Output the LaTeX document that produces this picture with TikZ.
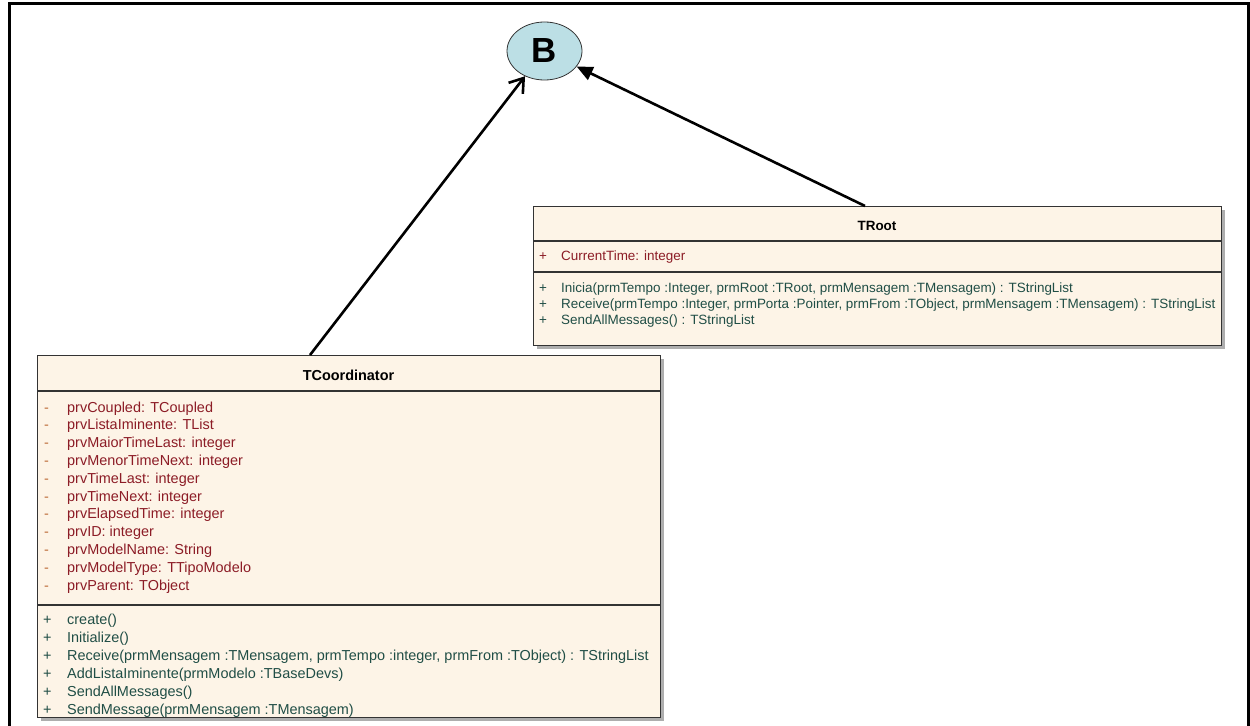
\documentclass[tikz,border=0pt]{standalone}
\usepackage{fontspec}
\setmainfont{Liberation Sans}
\usetikzlibrary{arrows.meta,shadows,shapes.geometric}
\definecolor{boxfill}{RGB}{253,244,231}
\definecolor{attrred}{RGB}{140,28,38}
\definecolor{methgreen}{RGB}{32,78,70}
\definecolor{dashbul}{RGB}{190,110,60}
\definecolor{ellfill}{RGB}{188,223,229}
\begin{document}
\begin{tikzpicture}[x=1bp,y=-1bp,
  classbox/.style={draw=black!80,line width=1.1bp,fill=boxfill,inner sep=0,anchor=north west,
    drop shadow={shadow xshift=3bp,shadow yshift=-3bp,fill=black!45,opacity=0.7}},
  sep/.style={draw=black!80,line width=1.1bp},
  txt/.style={inner sep=0,anchor=base west,font=\fontsize{14.5}{17}\selectfont},
  smalltxt/.style={inner sep=0,anchor=base west,font=\fontsize{13.5}{16}\selectfont},
  title/.style={inner sep=0,font=\fontsize{14.5}{17}\selectfont\bfseries},
  attr/.style={txt,text=attrred},
  meth/.style={txt,text=methgreen},
  gen/.style={line width=2.6bp,draw=black},
]
\useasboundingbox (0,0) rectangle (1250,726);
% frame
\draw[line width=3bp] (9,735) -- (9,4) -- (1248,4) -- (1248,735);

% base class
\node[ellipse,draw=black!80,line width=0.8bp,fill=ellfill,minimum width=75bp,minimum height=58bp,inner sep=0,
  font=\fontsize{35}{35}\selectfont\bfseries] (B) at (544.5,51) {B};

% TCoordinator
\node[classbox,minimum width=623bp,minimum height=362bp] (tc) at (37,355) {};
\node[title] (tctitle) at (348.5,375) {TCoordinator};
\draw[sep] (37,391) -- (660,391);
\draw[sep] (37,605) -- (660,605);
\foreach \t [count=\i from 0] in {{prvCoupled: TCoupled},{prvListaIminente: TList},{prvMaiorTimeLast: integer},
  {prvMenorTimeNext: integer},{prvTimeLast: integer},{prvTimeNext: integer},{prvElapsedTime: integer},
  {prvID: integer},{prvModelName: String},{prvModelType: TTipoModelo},{prvParent: TObject}}{
  \node[txt,text=dashbul] (tcab\i) at (44,412+17.8*\i) {-};
  \node[attr] (tca\i) at (67,412+17.8*\i) {\t};
}
\foreach \t [count=\i from 0] in {{create()},{Initialize()},
  {Receive(prmMensagem :TMensagem, prmTempo :integer, prmFrom :TObject) : TStringList},
  {AddListaIminente(prmModelo :TBaseDevs)},{SendAllMessages()},{SendMessage(prmMensagem :TMensagem)}}{
  \node[txt,text=methgreen] (tcmb\i) at (43,624+18*\i) {+};
  \node[meth] (tcm\i) at (67,624+18*\i) {\t};
}

% TRoot
\node[classbox,minimum width=688bp,minimum height=139bp] (tr) at (533,206) {};
\node[title,font=\fontsize{13.5}{16}\selectfont\bfseries] (trtitle) at (877,226) {TRoot};
\draw[sep] (533,241) -- (1221,241);
\draw[sep] (533,272) -- (1221,272);
\node[smalltxt,text=attrred] (trab0) at (539,260) {+};
\node[smalltxt,text=attrred] (tra0) at (561,260) {CurrentTime: integer};
\foreach \t [count=\i from 0] in {{Inicia(prmTempo :Integer, prmRoot :TRoot, prmMensagem :TMensagem) : TStringList},
  {Receive(prmTempo :Integer, prmPorta :Pointer, prmFrom :TObject, prmMensagem :TMensagem) : TStringList},
  {SendAllMessages() : TStringList}}{
  \node[smalltxt,text=methgreen] (trmb\i) at (539,292.5+16*\i) {+};
  \node[smalltxt,text=methgreen] (trm\i) at (561,292.5+16*\i) {\t};
}

% generalisation arrows
\coordinate (tcTop) at (310,355);
\coordinate (trTop) at (865,206);
\draw[gen,-{Straight Barb[length=13bp,width=18bp,line width=2.6bp]}] (tcTop) -- (B);
\draw[gen,-{Triangle[length=16bp,width=14bp]}] (trTop) -- (B);
\end{tikzpicture}
\end{document}
